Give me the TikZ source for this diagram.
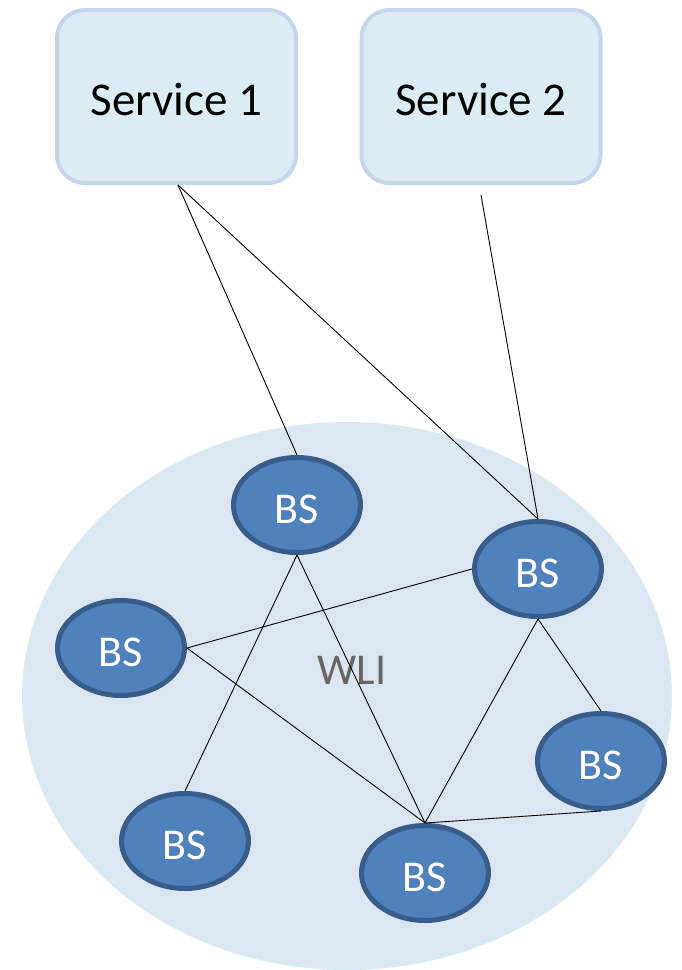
\documentclass[tikz,border=0pt]{standalone}
\usepackage{fontspec}
\setmainfont{Carlito}
\usetikzlibrary{shapes.geometric}
\definecolor{bsfill}{HTML}{4F81BD}
\definecolor{bsline}{HTML}{385D8A}
\definecolor{svfill}{HTML}{DBEDF3}
\definecolor{svline}{HTML}{C3D6EE}
\definecolor{wlifill}{HTML}{DCE6F1}
\definecolor{wliline}{HTML}{D8EAF2}
\definecolor{wlitext}{HTML}{666666}
\tikzset{
  bsnode/.style={ellipse, draw=bsline, line width=5pt, fill=bsfill, minimum width=127pt, minimum height=95pt, inner sep=0pt, text=white, font=\fontsize{44}{46}\selectfont, text height=36pt, text depth=0pt},
  svnode/.style={rectangle, rounded corners=28pt, draw=svline, line width=4pt, fill=svfill, minimum width=239pt, minimum height=173pt, inner sep=0pt, text=black, font=\fontsize{47}{49}\selectfont, text height=37pt, text depth=0pt},
  link/.style={draw=black, line width=0.9pt}
}
\begin{document}
\begin{tikzpicture}[x=1pt,y=-1pt]
\useasboundingbox (0,0) rectangle (682,970);
\fill[white] (0,0) rectangle (682,970);
\node[ellipse, fill=wlifill, draw=wliline, line width=2pt, minimum width=648pt, minimum height=546pt, inner sep=0pt] (wli) at (347,696) {};
\node[text=wlitext, font=\fontsize{44}{46}\selectfont] (wlil) at (352,670) {WLI};
\node[svnode] (s1) at (176.5,96.5) {Service 1};
\node[svnode] (s2) at (481,96.5) {Service 2};
\node[bsnode] (b1) at (297,505) {BS};
\node[bsnode] (b2) at (538,569) {BS};
\node[bsnode] (b3) at (121,648) {BS};
\node[bsnode] (b4) at (601,761) {BS};
\node[bsnode] (b5) at (185,841) {BS};
\node[bsnode] (b6) at (425,873) {BS};
\coordinate (s2a) at ([yshift=-10pt]s2.south);
\draw[link] ([xshift=1.5pt]s1.south) -- (b1.north);
\draw[link] ([xshift=1.5pt]s1.south) -- (b2.north);
\draw[link] (s2a) -- (b2.north);
\draw[link] (b1.south) -- (b5.north);
\draw[link] (b1.south) -- (b6.north);
\draw[link] (b3.east) -- (b2.west);
\draw[link] (b3.east) -- (b6.north);
\draw[link] (b2.south) -- (b6.north);
\draw[link] (b2.south) -- (b4.north);
\draw[link] (b4.south) -- (b6.north);
\end{tikzpicture}
\end{document}
